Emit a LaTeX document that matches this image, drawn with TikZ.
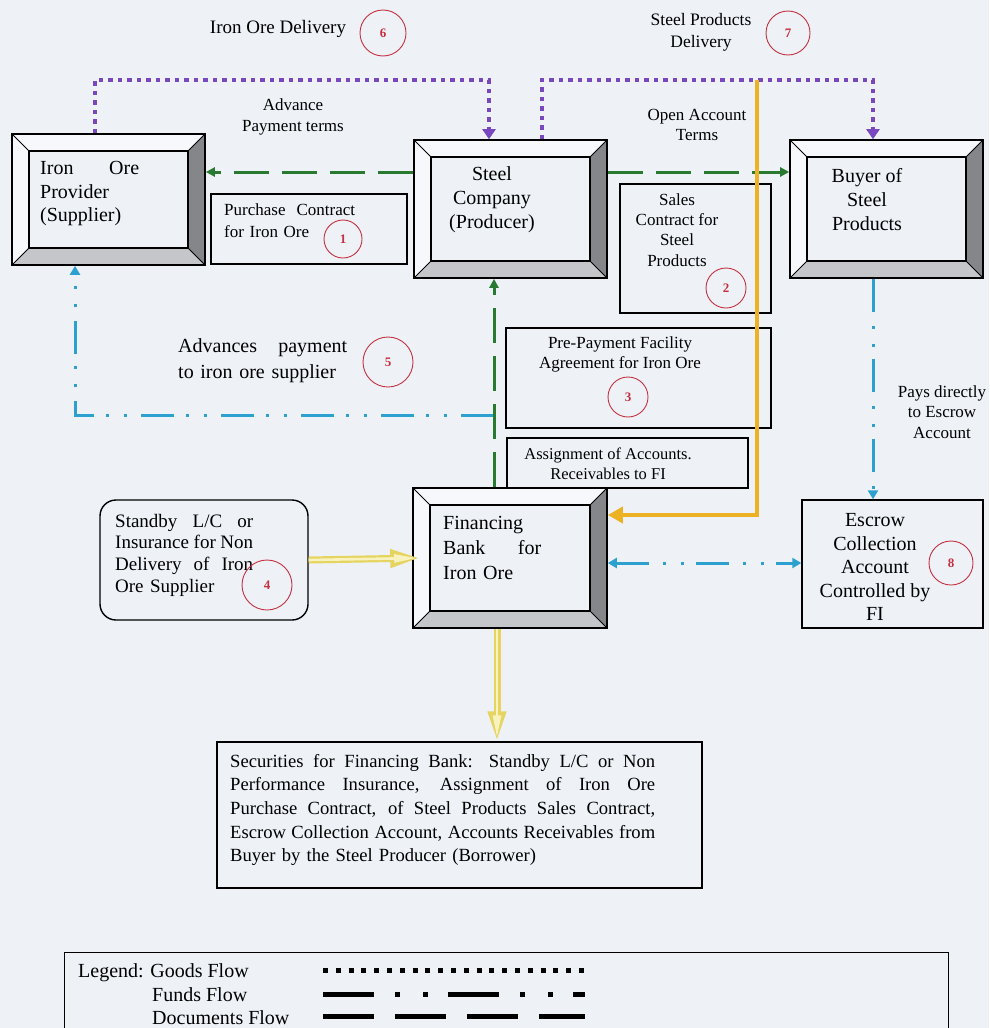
\documentclass[tikz,border=0pt]{standalone}
\usepackage{fontspec}
\setmainfont{Liberation Serif}
\usetikzlibrary{arrows.meta,calc}

\definecolor{bg}{RGB}{238,242,247}
\definecolor{goodsC}{RGB}{122,72,190}
\definecolor{docC}{RGB}{40,122,48}
\definecolor{fundC}{RGB}{44,160,206}
\definecolor{orangeC}{RGB}{236,178,36}
\definecolor{paleY}{RGB}{230,212,96}
\definecolor{paleYin}{RGB}{248,242,190}
\definecolor{bevR}{RGB}{132,134,138}
\definecolor{bevB}{RGB}{196,198,202}
\definecolor{bevL}{RGB}{246,248,251}
\definecolor{numC}{RGB}{196,48,64}

\newcommand\fsz[2]{\fontsize{#1}{#2}\selectfont}
% a line of text spread to a given width (interword glue allowed to stretch)
\newcommand\jline[2]{\makebox[#1][s]{\spaceskip=0pt\relax\xspaceskip=0pt\relax #2}}

\tikzset{
  bevelbox/.style={draw=black, line width=1.6pt, fill=bg, inner sep=0pt,
    path picture={
      \coordinate (pNW) at (path picture bounding box.north west);
      \coordinate (pNE) at (path picture bounding box.north east);
      \coordinate (pSW) at (path picture bounding box.south west);
      \coordinate (pSE) at (path picture bounding box.south east);
      \coordinate (qNW) at ([xshift=17pt,yshift=-17pt]pNW);
      \coordinate (qNE) at ([xshift=-17pt,yshift=-17pt]pNE);
      \coordinate (qSW) at ([xshift=17pt,yshift=17pt]pSW);
      \coordinate (qSE) at ([xshift=-17pt,yshift=17pt]pSE);
      \fill[bevL] (pNW) -- (pNE) -- (qNE) -- (qNW) -- (qSW) -- (pSW) -- cycle;
      \fill[bevR] (pNE) -- (pSE) -- (qSE) -- (qNE) -- cycle;
      \fill[bevB] (pSW) -- (pSE) -- (qSE) -- (qSW) -- cycle;
      \draw[black, line width=0.8pt] (pNW) -- (qNW) (pNE) -- (qNE) (pSW) -- (qSW) (pSE) -- (qSE);
      \draw[black, line width=1.6pt, fill=bg] (qNW) rectangle (qSE);
    }},
  plainbox/.style={draw=black, line width=1.4pt, fill=bg, inner sep=0pt},
  txt/.style={inner sep=0pt, align=center},
  num/.style={circle, draw=numC, line width=0.9pt, inner sep=0pt, minimum size=#1,
    text=numC, font=\fsz{13}{13}\bfseries},
  goods/.style={draw=goodsC, line width=4.5pt, dash pattern=on 4.5pt off 5pt,
    -{Triangle[length=10pt,width=13pt]}},
  docs/.style={draw=docC, line width=3pt, dash pattern=on 35pt off 13pt,
    -{Triangle[length=9pt,width=9pt]}},
  funds/.style={draw=fundC, line width=3pt,
    dash pattern=on 33pt off 14pt on 3pt off 15pt on 3pt off 12pt},
  fundtip/.style={-{Triangle[length=9pt,width=10pt]}},
  securout/.style={draw=paleY, line width=7pt, -{Triangle[length=30pt,width=17pt]}},
  securin/.style={draw=paleYin, line width=2.6pt, shorten >=4pt,
    -{Triangle[length=22pt,width=8pt]}},
  legline/.style={draw=black, line width=5pt},
}

\begin{document}
\begin{tikzpicture}[x=1pt,y=-1pt]
\useasboundingbox (0,0) rectangle (989,1028);
\fill[bg] (0,0) rectangle (989,1028);
\clip (0,0) rectangle (989,1028);

% ---- parties (bevelled boxes) ----
\node[bevelbox, minimum width=193pt, minimum height=131pt] (prov)  at (108.5,199.5) {};
\node[bevelbox, minimum width=193pt, minimum height=138pt] (steel) at (510.5,209) {};
\node[bevelbox, minimum width=193pt, minimum height=138pt] (buyer) at (886.5,209) {};

% ---- contracts and documents ----
\node[plainbox, minimum width=196pt, minimum height=70pt]  (pc)  at (309,229) {};
\node[plainbox, minimum width=151pt, minimum height=129pt] (sc)  at (695.5,248.5) {};
\node[plainbox, minimum width=265pt, minimum height=100pt] (pp)  at (638.5,378) {};
\node[plainbox, minimum width=241pt, minimum height=50pt]  (asg) at (627.5,463) {};
\node[plainbox, minimum width=181pt, minimum height=128pt] (esc) at (892.5,564) {};
\node[plainbox, rounded corners=16pt, minimum width=208pt, minimum height=120pt] (sby) at (204,560) {};
\node[plainbox, minimum width=485pt, minimum height=146pt] (sec) at (459.5,815) {};
\node[plainbox, line width=1.2pt, anchor=north west, minimum width=884pt, minimum height=100pt] (leg) at (64,952) {};

\node[bevelbox, minimum width=194pt, minimum height=140pt] (bank) at (510,558) {};

% ---- goods flow ----
\coordinate (gA) at (95,80);  \coordinate (gB) at (489,80);
\coordinate (gC) at (542,80); \coordinate (gD) at (873,80);
\draw[goods] (prov.north -| gA) -- (gA) -- (gB) -- (steel.north -| gB);
\draw[goods] (steel.north -| gC) -- (gC) -- (gD) -- (buyer.north -| gD);

% ---- funds flow ----
\coordinate (fA) at (494,415); \coordinate (fB) at (75,415);
\coordinate (fC) at (873,0);   \coordinate (fY) at (0,563);
\draw[funds, fundtip] (fA) -- (fB) -- (prov.south -| fB);
\draw[funds, fundtip] (buyer.south -| fC) -- (esc.north -| fC);
\draw[funds, {Triangle[length=9pt,width=10pt]}-{Triangle[length=9pt,width=10pt]}]
  (bank.east |- fY) -- (esc.west |- fY);

% ---- documents flow ----
\coordinate (dY) at (0,172); \coordinate (dX) at (494,0);
\draw[docs] (steel.west |- dY) -- (prov.east |- dY);
\draw[docs] (steel.east |- dY) -- (buyer.west |- dY);
\draw[docs] (bank.north -| dX) -- (steel.south -| dX);

% ---- receivables to the bank ----
\coordinate (oA) at (757,80); \coordinate (oB) at (757,515);
\draw[orangeC, line width=4pt, -{Triangle[length=15pt,width=16pt]}]
  (oA) -- (oB) -- (bank.east |- oB);

% ---- securities ----
\coordinate (yX) at (497,0);
\draw[securout] (sby.east) -- ([xshift=8pt]bank.west);
\draw[securin]  (sby.east) -- ([xshift=8pt]bank.west);
\draw[securout] (bank.south -| yX) -- (sec.north -| yX);
\draw[securin]  (bank.south -| yX) -- (sec.north -| yX);

% ---- labels ----
\node[txt, font=\fsz{19}{22}] (t6) at (278,29) {Iron Ore Delivery};
\node[num=46pt] (n6) at (383,33) {6};
\node[txt, font=\fsz{17.5}{22}] (t7) at (701,32) {Steel Products\\Delivery};
\node[num=44pt] (n7) at (788,33) {7};
\node[txt, font=\fsz{17}{21}] (tadv) at (293,117) {Advance\\Payment terms};
\node[txt, font=\fsz{17}{20}] (topen) at (697,125) {Open Account\\Terms};

\node[txt, font=\fsz{20}{23.5}, anchor=west, text width=99pt, align=left] (tprov) at (40,194)
  {\jline{99pt}{Iron Ore}\\Provider\\(Supplier)};
\node[txt, font=\fsz{20}{24}] (tsteel) at (492,200) {Steel\\Company\\(Producer)};
\node[txt, font=\fsz{20}{24}] (tbuyer) at (867,200) {Buyer of\\Steel\\Products};

\node[txt, font=\fsz{17}{22}, anchor=west, text width=131pt, align=left] (tpc) at (224,221)
  {\jline{131pt}{Purchase Contract}\\for Iron Ore};
\node[num=38pt] (n1) at (343,239) {1};
\node[txt, font=\fsz{17}{20.3}] (tsc) at (677,230) {Sales\\Contract for\\Steel\\Products};
\node[num=40pt] (n2) at (726,288) {2};

\node[txt, font=\fsz{20}{26}, anchor=west, text width=169pt, align=left] (t5) at (178,361)
  {\jline{169pt}{Advances payment}\\to iron ore supplier};
\node[num=50pt] (n5) at (388,362) {5};
\node[txt, font=\fsz{17}{20}] (tpp) at (620,354) {Pre-Payment Facility\\Agreement for Iron Ore};
\node[num=40pt] (n3) at (628,397) {3};
\node[txt, font=\fsz{16.5}{20}] (tasg) at (608,464) {Assignment of Accounts.\\Receivables to FI};
\node[txt, font=\fsz{17}{20.5}] (tpay) at (942,412) {Pays directly\\to Escrow\\Account};

\node[txt, font=\fsz{19}{21.7}, anchor=west, text width=138pt, align=left] (tsby) at (115,555)
  {\jline{138pt}{Standby L/C or}\\\jline{138pt}{Insurance for Non}\\
   \jline{138pt}{Delivery of Iron}\\Ore Supplier};
\node[num=50pt] (n4) at (267,585) {4};
\node[txt, font=\fsz{20}{25}, anchor=west, text width=98pt, align=left] (tbank) at (443,548)
  {Financing\\\jline{98pt}{Bank for}\\Iron Ore};
\node[txt, font=\fsz{20}{23.5}] (tesc) at (875,567) {Escrow\\Collection\\Account\\Controlled by\\FI};
\node[num=44pt] (n8) at (951,563) {8};

\node[txt, font=\fsz{18.6}{23.7}, anchor=west, text width=425pt, align=left] (tsec) at (230,810)
  {\jline{425pt}{Securities for Financing Bank: Standby L/C or Non}\\
   \jline{425pt}{Performance Insurance, Assignment of Iron Ore}\\
   \jline{425pt}{Purchase Contract, of Steel Products Sales Contract,}\\
   \jline{425pt}{Escrow Collection Account, Accounts Receivables from}\\
   Buyer by the Steel Producer (Borrower)};

% ---- legend ----
\node[inner sep=0pt, anchor=base west, font=\fsz{20}{24}] (lg1) at (78,977) {Legend: Goods Flow};
\node[inner sep=0pt, anchor=base west, font=\fsz{20}{24}] (lg2) at (152,1001) {Funds Flow};
\node[inner sep=0pt, anchor=base west, font=\fsz{20}{24}] (lg3) at (152,1024) {Documents Flow};
\coordinate (lgA1) at (323,970);  \coordinate (lgB1) at (585,970);
\coordinate (lgA2) at (323,994);  \coordinate (lgB2) at (585,994);
\coordinate (lgA3) at (323,1016); \coordinate (lgB3) at (585,1016);
\draw[legline, dash pattern=on 5pt off 7.8pt] (lgA1) -- (lgB1);
\draw[legline, dash pattern=on 51pt off 21pt on 5pt off 23pt on 5pt off 20pt] (lgA2) -- (lgB2);
\draw[legline, dash pattern=on 51pt off 21pt] (lgA3) -- (lgB3);
\end{tikzpicture}
\end{document}
